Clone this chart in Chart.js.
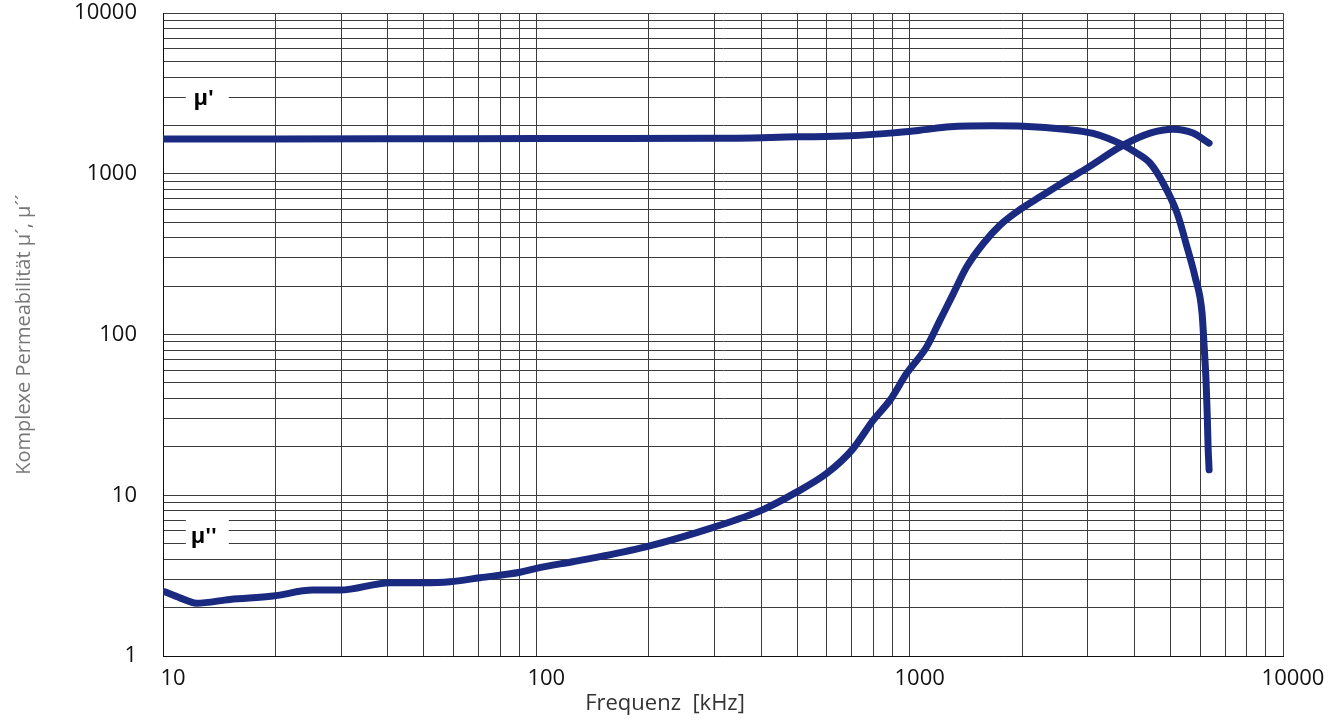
<!DOCTYPE html>
<html>
<head>
<meta charset="utf-8">
<script src="https://cdn.jsdelivr.net/npm/chart.js@4.4.1/dist/chart.umd.min.js"></script>
<style>
  html, body { margin: 0; padding: 0; background: #fff; }
  #wrap { width: 1343px; height: 722px; }
</style>
</head>
<body>
<div id="wrap"><canvas id="chart"></canvas></div>
<script>
// === データ (周波数 kHz / 透磁率) ===
const muPrimeFreq = [10, 20, 50, 100, 148, 297, 499, 692, 903, 1066, 1282, 1673, 2013, 2640, 3100, 3733, 4018, 4406, 4775, 5205, 5534, 5815, 6070, 6150, 6220, 6265, 6300, 6340];
const muPrimeVal  = [1650, 1650, 1655, 1660, 1662, 1665, 1700, 1725, 1800, 1871, 1962, 1990, 1980, 1890, 1785, 1510, 1366, 1166, 875, 570, 350, 228, 136, 84, 52, 32.5, 20, 14.4];

const muDoubleFreq = [10.1, 11.1, 12.3, 15.1, 19.7, 25.2, 29.8, 40.6, 49.7, 58.7, 70.6, 90.4, 100, 125, 148, 200, 298, 402, 499, 600, 700, 799, 886, 982, 1111, 1206, 1309, 1422, 1575, 1746, 1996, 2235, 2634, 2985, 3733, 4406, 5082, 5740, 6340];
const muDoubleVal  = [2.51, 2.30, 2.13, 2.25, 2.36, 2.57, 2.57, 2.86, 2.86, 2.90, 3.07, 3.32, 3.51, 3.86, 4.15, 4.83, 6.32, 8.09, 10.5, 13.7, 19.1, 29.4, 39.1, 57.4, 84.0, 123, 180, 264, 369, 480, 610, 720, 914, 1086, 1510, 1794, 1898, 1794, 1553];

const xDecades = [10, 100, 1000, 10000];
const yDecades = [1, 10, 100, 1000, 10000];

const seriesLabels = ["μ'", "μ''"];
const xTitle = 'Frequenz  [kHz]';
const yTitle = 'Komplexe Permeabilität µ´, µ´´';

const LINE_COLOR = '#1a2a80';

// 対数グリッド (1..9 × 10^n)
function gridValues(decades) {
    const vals = [];
    decades.forEach((d, i) => {
        if (i === decades.length - 1) { vals.push(d); return; }
        for (let k = 1; k <= 9; k++) vals.push(k * d);
    });
    return vals;
}

function isDecade(v, decades) {
    return decades.some(d => Math.abs(d - v) < 1e-9 * d);
}

// === ラベル & x軸タイトル ===
const annotPlugin = {
    id: 'annot',
    afterDraw(chart) {
        const { ctx, scales: { x, y } } = chart;
        ctx.save();
        const marks = [
            { text: seriesLabels[0], f: 13.1, v: 3000, h: 26 },
            { text: seriesLabels[1], f: 13.1, v: 5.7, h: 38 },
        ];
        marks.forEach(m => {
            const px = x.getPixelForValue(m.f);
            const py = y.getPixelForValue(m.v);
            ctx.fillStyle = '#fff';
            ctx.fillRect(px - 21, py - m.h / 2, 43, m.h);
            ctx.fillStyle = '#000';
            ctx.font = "bold 22px 'Open Sans', sans-serif";
            ctx.textAlign = 'center';
            ctx.textBaseline = 'middle';
            ctx.fillText(m.text, px - 3, py + 2);
        });
        ctx.fillStyle = '#333';
        ctx.font = "22px 'Open Sans', sans-serif";
        ctx.textAlign = 'center';
        ctx.textBaseline = 'middle';
        ctx.fillText(xTitle, 665, 704);
        ctx.restore();
    }
};

Chart.defaults.font.family = "'Open Sans', sans-serif";

const ctx = document.getElementById('chart').getContext('2d');
new Chart(ctx, {
    type: 'line',
    data: {
        datasets: [
            {
                label: seriesLabels[0],
                data: muPrimeFreq.map((f, i) => ({ x: f, y: muPrimeVal[i] })),
                borderColor: LINE_COLOR,
                borderWidth: 7,
                borderCapStyle: 'round',
                borderJoinStyle: 'round',
                cubicInterpolationMode: 'monotone',
                pointRadius: 0,
                fill: false,
            },
            {
                label: seriesLabels[1],
                data: muDoubleFreq.map((f, i) => ({ x: f, y: muDoubleVal[i] })),
                borderColor: LINE_COLOR,
                borderWidth: 7,
                borderCapStyle: 'round',
                borderJoinStyle: 'round',
                cubicInterpolationMode: 'monotone',
                pointRadius: 0,
                fill: false,
            },
        ],
    },
    options: {
        responsive: true,
        maintainAspectRatio: false,
        animation: false,
        layout: { padding: { top: 13, right: 60, left: 0, bottom: 0 } },
        plugins: {
            legend: { display: false },
            tooltip: { enabled: false },
        },
        scales: {
            x: {
                type: 'logarithmic',
                min: 10,
                max: 10000,
                afterBuildTicks: s => { s.ticks = gridValues(xDecades).map(v => ({ value: v })); },
                afterFit: s => { s.height = 66; },
                grid: { color: '#3c3c3c', lineWidth: 1, drawTicks: true, tickLength: 10, tickColor: 'rgba(0,0,0,0)' },
                border: { display: true, color: '#111', width: 1 },
                ticks: {
                    autoSkip: false,
                    maxRotation: 0,
                    padding: 0,
                    labelOffset: 10,
                    color: '#111',
                    font: { size: 22 },
                    callback: v => isDecade(v, xDecades) ? String(v) : '',
                },
            },
            y: {
                type: 'logarithmic',
                min: 1,
                max: 10000,
                afterBuildTicks: s => { s.ticks = gridValues(yDecades).map(v => ({ value: v })); },
                afterFit: s => { s.width = 163; },
                grid: { color: '#3c3c3c', lineWidth: 1, drawTicks: true, tickLength: 26, tickColor: 'rgba(0,0,0,0)' },
                border: { display: true, color: '#111', width: 1 },
                title: {
                    display: true,
                    text: yTitle,
                    color: '#777',
                    font: { size: 20 },
                    padding: { top: 12, bottom: 0 },
                },
                ticks: {
                    autoSkip: false,
                    padding: 0,
                    color: '#111',
                    font: { size: 22 },
                    callback: v => isDecade(v, yDecades) ? String(v) : '',
                },
            },
        },
    },
    plugins: [annotPlugin],
});
</script>
</body>
</html>
